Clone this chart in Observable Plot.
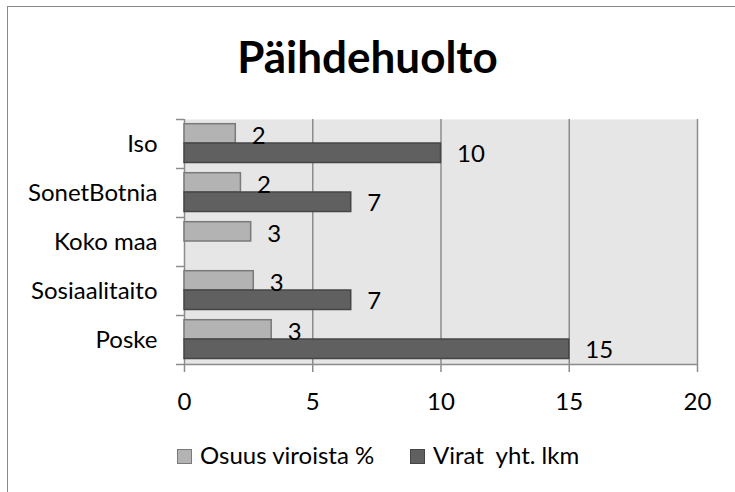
<!DOCTYPE html>
<html>
<head>
<meta charset="utf-8">
<script src="https://cdn.jsdelivr.net/npm/d3@7"></script>
<script src="https://cdn.jsdelivr.net/npm/@observablehq/plot@0.6"></script>
<style>
  html, body { margin: 0; padding: 0; background: #fff; overflow: hidden; }
  #wrap { position: relative; width: 735px; height: 492px; overflow: hidden; font-family: Lato, "Open Sans", sans-serif; }
  #border { position: absolute; left: 7px; top: 6px; width: 800px; height: 600px; border: 1.5px solid #8a8a8a; }
  #title { position: absolute; left: 0; width: 735px; top: 34px; text-align: center; font-weight: bold; font-size: 44px; line-height: 44px; color: #000; }
  #chart { position: absolute; left: 0; top: 100px; }
  #legend { position: absolute; top: 441px; left: 0; width: 735px; height: 28px; font-size: 24px; line-height: 28px; color: #000; }
  .item { position: absolute; top: 0; white-space: pre; }
  .sw { display: inline-block; width: 13px; height: 13px; border: 1px solid; vertical-align: 0px; margin-right: 8px; }
</style>
</head>
<body>
<div id="wrap">
  <div id="border"></div>
  <div id="title">Päihdehuolto</div>
  <div id="chart"></div>
  <div id="legend"></div>
</div>
<script>
const categories = ["Iso", "SonetBotnia", "Koko maa", "Sosiaalitaito", "Poske"];
const osuusViroista = [2.0, 2.2, 2.6, 2.7, 3.4];
const viratYht = [10, 6.5, null, 6.5, 15];
const seriesNames = ["Osuus viroista %", "Virat  yht. lkm"];
const xTicks = [0, 5, 10, 15, 20];

const colors = { light: "#b3b3b3", lightStroke: "#7a7a7a", dark: "#606060", darkStroke: "#454545", grid: "#8c8c8c", bg: "#e6e6e6" };
const fs = 24;

const lightData = categories.map((c, i) => ({cat: c, value: osuusViroista[i]})).filter(d => d.value != null);
const darkData = categories.map((c, i) => ({cat: c, value: viratYht[i]})).filter(d => d.value != null);

const chart = Plot.plot({
  width: 735,
  height: 310,
  marginLeft: 184,
  marginRight: 38,
  marginTop: 19,
  marginBottom: 46,
  style: { fontFamily: "Lato, 'Open Sans', sans-serif", fontSize: fs + "px", color: "#000", background: "transparent", overflow: "visible" },
  x: { domain: [0, 20], ticks: xTicks, label: null },
  y: { domain: categories, padding: 0, label: null },
  marks: [
    Plot.frame({ fill: colors.bg, stroke: null }),
    Plot.ruleX(xTicks, { stroke: colors.grid, strokeWidth: 1.5 }),
    Plot.ruleY(["Poske"], { dy: 24.5, stroke: colors.grid, strokeWidth: 1.5 }),
    Plot.barX(lightData, { x: "value", y: "cat", fill: colors.light, stroke: colors.lightStroke, strokeWidth: 1.5, insetTop: 4.7, insetBottom: 25 }),
    Plot.barX(darkData, { x: "value", y: "cat", fill: colors.dark, stroke: colors.darkStroke, strokeWidth: 1.5, insetTop: 24, insetBottom: 5.5 }),
    Plot.text(lightData, { x: "value", y: "cat", text: d => String(Math.round(d.value)), dx: 16, dy: -8, textAnchor: "start", fontSize: fs, fill: "#000" }),
    Plot.text(darkData, { x: "value", y: "cat", text: d => String(Math.round(d.value)), dx: 16, dy: 10, textAnchor: "start", fontSize: fs, fill: "#000" }),
    Plot.axisX({ ticks: xTicks, tickSize: 8, tickPadding: 20, stroke: colors.grid, strokeWidth: 1.5, fill: "#000", fontSize: fs, label: null }),
    Plot.axisY({ tickSize: 0, tickPadding: 27, fill: "#000", fontSize: fs, label: null }),
    Plot.axisY({ tickSize: 8, tickFormat: () => "", dy: -24.5, stroke: colors.grid, strokeWidth: 1.5, label: null }),
    Plot.axisY(["Poske"], { tickSize: 8, tickFormat: () => "", dy: 24.5, stroke: colors.grid, strokeWidth: 1.5, label: null })
  ]
});
document.getElementById("chart").appendChild(chart);

const legend = document.getElementById("legend");
const legendPos = [177, 410];
const legendFill = [[colors.light, colors.lightStroke], [colors.dark, colors.darkStroke]];
seriesNames.forEach((name, i) => {
  const item = document.createElement("div");
  item.className = "item";
  item.style.left = legendPos[i] + "px";
  const sw = document.createElement("span");
  sw.className = "sw";
  sw.style.background = legendFill[i][0];
  sw.style.borderColor = legendFill[i][1];
  item.appendChild(sw);
  item.appendChild(document.createTextNode(name));
  legend.appendChild(item);
});
</script>
</body>
</html>
